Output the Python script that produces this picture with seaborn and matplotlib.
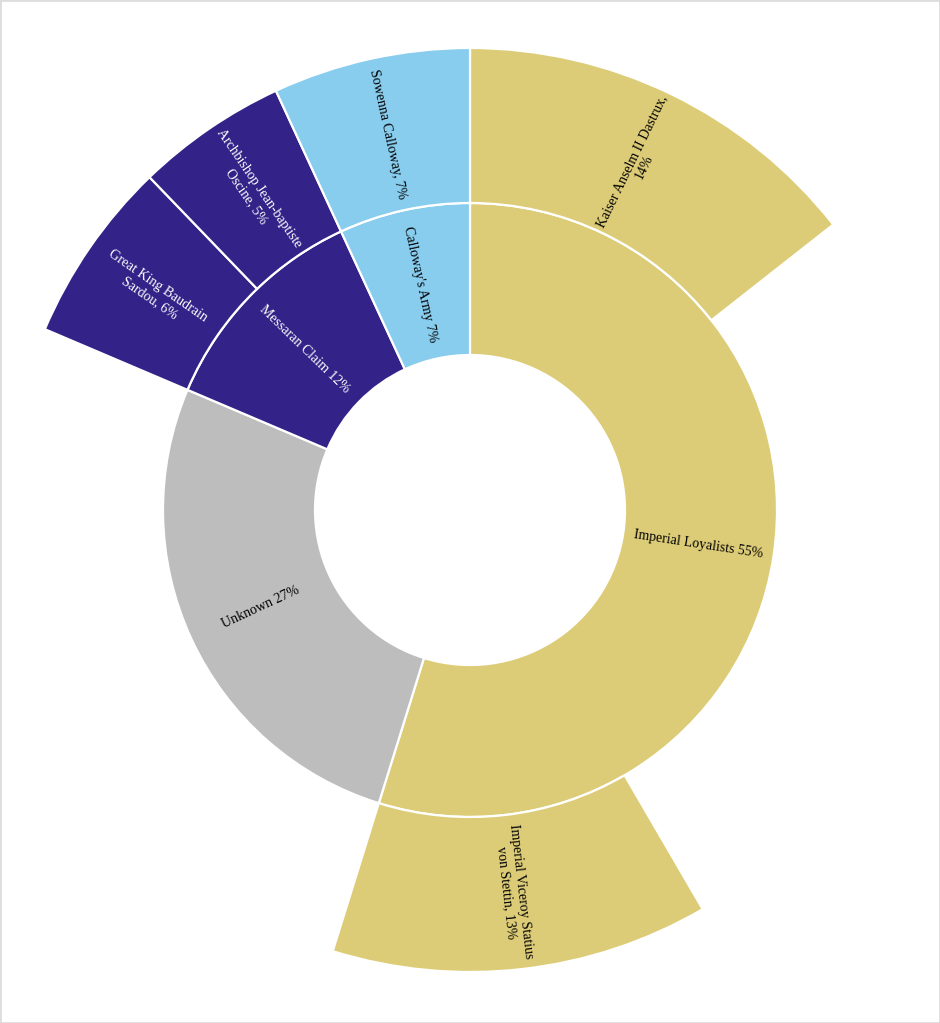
import numpy as np
import matplotlib
matplotlib.use("Agg")
import matplotlib.pyplot as plt
import seaborn as sns

# inner ring: factions (share in %)
factions = ["Imperial Loyalists", "Unknown", "Messaran Claim", "Calloway's Army"]
faction_share = [54.8, 26.6, 11.7, 6.9]
faction_colors = ["#DDCC77", "#BDBDBD", "#332288", "#88CCEE"]

# outer ring: leaders, with the parent faction each one belongs to
leaders = ["Kaiser Anselm II Dastrux,\n14%", "Imperial Viceroy Statius\nvon Stettin, 13%",
           "Great King Baudrain\nSardou, 6%", "Archbishop Jean-baptiste\nOscine, 5%",
           "Sowenna Calloway, 7%"]
leader_share = [14.4, 13.2, 6.4, 5.3, 6.9]
leader_parent = ["Imperial Loyalists", "Imperial Loyalists", "Messaran Claim",
                 "Messaran Claim", "Calloway's Army"]
# leaders sit at the start/end of the parent slice; None marks an empty stretch
leader_order = [0, None, 1, None, 2, 3, 4]

sns.set_theme(style="white")
plt.rcParams['font.family'] = ['Liberation Serif', 'DejaVu Serif']

W, H = 940, 1023
fig = plt.figure(figsize=(W / 100, H / 100), dpi=100)
ax = fig.add_axes([0, 0, 1, 1])

cx, cy = 470, H - 510
r_hole, r_in, r_out = 155, 307, 462

# inner ring
ax.pie(faction_share, colors=faction_colors, startangle=90, counterclock=False,
       radius=r_in, center=(cx, cy), frame=True,
       wedgeprops=dict(width=r_in - r_hole, edgecolor="white", linewidth=1.6))

# outer ring with gaps where a faction has no listed leader
outer_vals, outer_cols, outer_vis = [], [], []
fac_color = dict(zip(factions, faction_colors))
gap_loyal = faction_share[0] - leader_share[0] - leader_share[1]
for item in leader_order:
    if item is None:
        outer_vals.append(gap_loyal if len(outer_vals) == 1 else faction_share[1])
        outer_cols.append("white")
        outer_vis.append(False)
    else:
        outer_vals.append(leader_share[item])
        outer_cols.append(fac_color[leader_parent[item]])
        outer_vis.append(True)

wedges, _ = ax.pie(outer_vals, colors=outer_cols, startangle=90, counterclock=False,
                   radius=r_out, center=(cx, cy), frame=True,
                   wedgeprops=dict(width=r_out - r_in, edgecolor="white", linewidth=1.6))
for w, vis in zip(wedges, outer_vis):
    w.set_visible(vis)


def radial_label(text, start, size, radius, color, fs):
    mid = (start + size / 2) / 100 * 360  # clockwise from 12 o'clock
    theta = np.deg2rad(90 - mid)
    x = cx + radius * np.cos(theta)
    y = cy + radius * np.sin(theta)
    rot = np.rad2deg(theta)
    rot = (rot + 90) % 180 - 90
    ax.text(x, y, text, rotation=rot, rotation_mode="anchor", ha="center",
            va="center", color=color, fontsize=fs, linespacing=1.15,
            multialignment="center")


text_col = {"#332288": "white"}
start = 0
for name, v, c in zip(factions, faction_share, faction_colors):
    radial_label(f"{name} {v:.0f}%", start, v, (r_hole + r_in) / 2,
                 text_col.get(c, "black"), 10)
    start += v

start = 0
for item, v, c in zip(leader_order, outer_vals, outer_cols):
    if item is not None:
        radial_label(leaders[item], start, v, (r_in + r_out) / 2,
                     text_col.get(c, "black"), 10)
    start += v

ax.set_xlim(0, W)
ax.set_ylim(0, H)
ax.set_aspect("equal")
ax.axis("off")

fig.patches.append(plt.Rectangle((0, 0), 1, 1, transform=fig.transFigure,
                                 fill=False, edgecolor="#DDDDDD", linewidth=2))

fig.savefig("out.png", dpi=100, facecolor="white")
